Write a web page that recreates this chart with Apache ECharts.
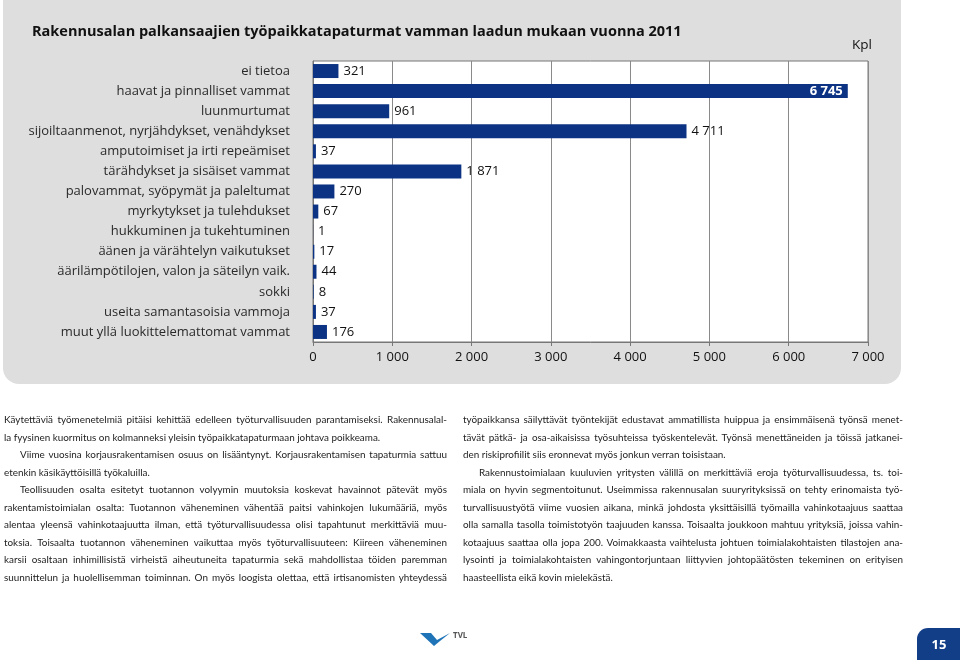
<!DOCTYPE html>
<html>
<head>
<meta charset="utf-8">
<script src="https://cdn.jsdelivr.net/npm/echarts@6/dist/echarts.min.js"></script>
<style>
  html, body { margin: 0; padding: 0; background: #fff; }
  #wrap { position: relative; width: 960px; height: 660px; overflow: hidden; background: #fff; }
  #panel { position: absolute; left: 3px; top: -16px; width: 898px; height: 400px; border-radius: 16px; background: #dedede; }
  #chart { position: absolute; left: 0; top: 0; width: 960px; height: 660px; }
  .col { position: absolute; top: 411px; font-family: Lato, "Noto Sans", sans-serif; font-size: 9.9px; color: #222; }
  .ln { height: 17.5px; line-height: 17.5px; white-space: nowrap; text-align: justify; text-align-last: justify; }
  .ln.last { text-align-last: left; }
  .ln.ind { text-indent: 16px; }
</style>
</head>
<body>
<div id="wrap">
  <div id="panel"></div>
  <div id="chart"></div>
  <div class="col" id="colL" style="left:4px; width:443px;"></div>
  <div class="col" id="colR" style="left:463px; width:440px;"></div>
</div>
<script>
// ---- data ----
const title = 'Rakennusalan palkansaajien työpaikkatapaturmat vamman laadun mukaan vuonna 2011';
const unitLabel = 'Kpl';
const categories = [
  'ei tietoa',
  'haavat ja pinnalliset vammat',
  'luunmurtumat',
  'sijoiltaanmenot, nyrjähdykset, venähdykset',
  'amputoimiset ja irti repeämiset',
  'tärähdykset ja sisäiset vammat',
  'palovammat, syöpymät ja paleltumat',
  'myrkytykset ja tulehdukset',
  'hukkuminen ja tukehtuminen',
  'äänen ja värähtelyn vaikutukset',
  'äärilämpötilojen, valon ja säteilyn vaik.',
  'sokki',
  'useita samantasoisia vammoja',
  'muut yllä luokittelemattomat vammat'
];
const values = [321, 6745, 961, 4711, 37, 1871, 270, 67, 1, 17, 44, 8, 37, 176];
const xTicks = [0, 1000, 2000, 3000, 4000, 5000, 6000, 7000];

const leftLines = [
  ['Käytettäviä työmenetelmiä pitäisi kehittää edelleen työturvallisuuden parantamiseksi. Rakennusalal-', ''],
  ['la fyysinen kuormitus on kolmanneksi yleisin työpaikkatapaturmaan johtava poikkeama.', 'last'],
  ['Viime vuosina korjausrakentamisen osuus on lisääntynyt. Korjausrakentamisen tapaturmia sattuu', 'ind'],
  ['etenkin käsikäyttöisillä työkaluilla.', 'last'],
  ['Teollisuuden osalta esitetyt tuotannon volyymin muutoksia koskevat havainnot pätevät myös', 'ind'],
  ['rakentamistoimialan osalta: Tuotannon väheneminen vähentää paitsi vahinkojen lukumääriä, myös', ''],
  ['alentaa yleensä vahinkotaajuutta ilman, että työturvallisuudessa olisi tapahtunut merkittäviä muu-', ''],
  ['toksia. Toisaalta tuotannon väheneminen vaikuttaa myös työturvallisuuteen: Kiireen väheneminen', ''],
  ['karsii osaltaan inhimillisistä virheistä aiheutuneita tapaturmia sekä mahdollistaa töiden paremman', ''],
  ['suunnittelun ja huolellisemman toiminnan. On myös loogista olettaa, että irtisanomisten yhteydessä', '']
];
const rightLines = [
  ['työpaikkansa säilyttävät työntekijät edustavat ammatillista huippua ja ensimmäisenä työnsä menet-', ''],
  ['tävät pätkä- ja osa-aikaisissa työsuhteissa työskentelevät. Työnsä menettäneiden ja töissä jatkanei-', ''],
  ['den riskiprofiilit siis eronnevat myös jonkun verran toisistaan.', 'last'],
  ['Rakennustoimialaan kuuluvien yritysten välillä on merkittäviä eroja työturvallisuudessa, ts. toi-', 'ind'],
  ['miala on hyvin segmentoitunut. Useimmissa rakennusalan suuryrityksissä on tehty erinomaista työ-', ''],
  ['turvallisuustyötä viime vuosien aikana, minkä johdosta yksittäisillä työmailla vahinkotaajuus saattaa', ''],
  ['olla samalla tasolla toimistotyön taajuuden kanssa. Toisaalta joukkoon mahtuu yrityksiä, joissa vahin-', ''],
  ['kotaajuus saattaa olla jopa 200. Voimakkaasta vaihtelusta johtuen toimialakohtaisten tilastojen ana-', ''],
  ['lysointi ja toimialakohtaisten vahingontorjuntaan liittyvien johtopäätösten tekeminen on erityisen', ''],
  ['haasteellista eikä kovin mielekästä.', 'last']
];
const pageNumber = '15';

// ---- body text ----
function fillCol(id, lines) {
  const el = document.getElementById(id);
  lines.forEach(([t, cls]) => {
    const d = document.createElement('div');
    d.className = 'ln ' + cls;
    d.textContent = t;
    el.appendChild(d);
    let ls = 0;
    while (d.scrollWidth > d.clientWidth + 0.5 && ls > -1) {
      ls -= 0.05;
      d.style.letterSpacing = ls + 'px';
    }
  });
}
fillCol('colL', leftLines);
fillCol('colR', rightLines);

// ---- chart ----
const fmt = v => v >= 1000 ? Math.floor(v / 1000) + ' ' + String(v % 1000).padStart(3, '0') : String(v);
const maxVal = Math.max(...values);
const FONT = '"Open Sans", "Noto Sans", sans-serif';

const chart = echarts.init(document.getElementById('chart'), null, { renderer: 'canvas' });
chart.setOption({
  animation: false,
  backgroundColor: 'transparent',
  textStyle: { fontFamily: FONT },
  graphic: [
    { type: 'text', left: 32, top: 24, style: { text: title, font: 'bold 14.5px ' + FONT, fill: '#111' } },
    { type: 'text', right: 88, top: 38, style: { text: unitLabel, font: '13.5px ' + FONT, fill: '#111' } },
    { type: 'rect', silent: true, shape: { x: 917, y: 628, width: 50, height: 40, r: [11, 0, 0, 0] }, style: { fill: '#123e88' } },
    { type: 'text', x: 939, y: 645, style: { text: pageNumber, font: 'bold 13px ' + FONT, fill: '#fff', align: 'center', verticalAlign: 'middle' } },
    { type: 'polygon', shape: { points: [[420, 633], [431, 633], [437, 640], [450, 633], [440, 641], [434, 646]] }, style: { fill: '#1f74b8' } },
    { type: 'text', x: 453, y: 636, style: { text: 'TVL', font: 'bold 8px ' + FONT, fill: '#555', verticalAlign: 'middle' } }
  ],
  grid: { left: 313, right: 92, top: 61, bottom: 318, show: true, backgroundColor: '#ffffff', borderColor: '#777777', borderWidth: 1, containLabel: false },
  xAxis: {
    type: 'value', min: xTicks[0], max: xTicks[xTicks.length - 1], interval: 1000,
    axisLine: { show: true, lineStyle: { color: '#777' } },
    axisTick: { show: true, length: 4, lineStyle: { color: '#777' } },
    splitLine: { show: true, lineStyle: { color: '#8a8a8a', width: 1, type: 'solid' } },
    axisLabel: { formatter: fmt, fontSize: 13, color: '#111', margin: 9, fontFamily: FONT }
  },
  yAxis: {
    type: 'category', data: categories, inverse: true,
    axisLine: { show: true, lineStyle: { color: '#777' } },
    axisTick: { show: false },
    splitLine: { show: false },
    axisLabel: { fontSize: 13, color: '#2a2a2a', margin: 23, fontFamily: FONT }
  },
  series: [{
    type: 'bar',
    barWidth: 14,
    itemStyle: { color: '#0c3383' },
    data: values.map(v => v === maxVal ? {
      value: v,
      label: { position: 'insideRight', distance: 5, color: '#fff', fontWeight: 'bold' }
    } : v),
    label: { show: true, position: 'right', distance: 5, fontSize: 13, color: '#111', fontFamily: FONT, formatter: p => fmt(p.value) }
  }]
});
</script>
</body>
</html>
